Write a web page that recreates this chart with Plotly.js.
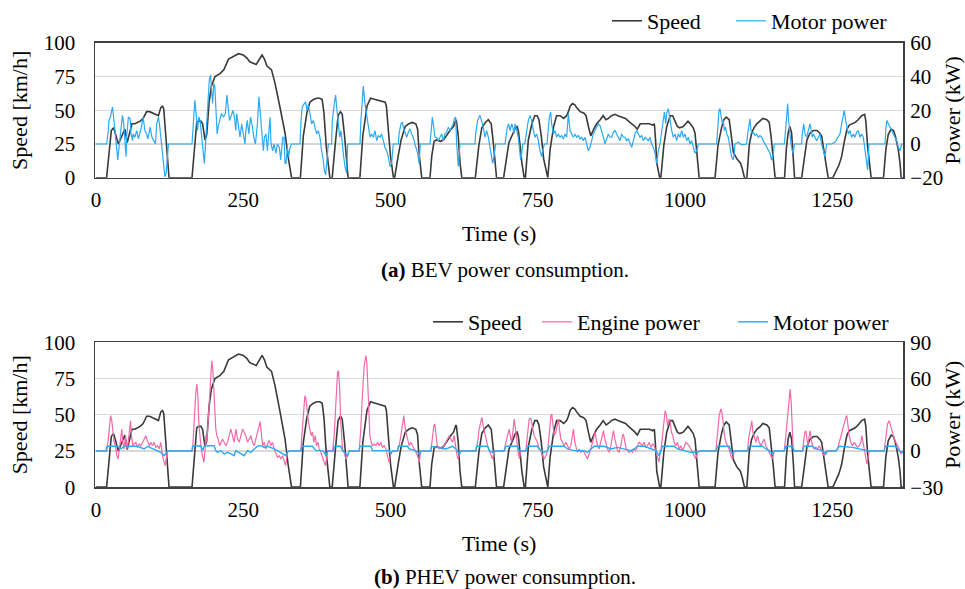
<!DOCTYPE html>
<html>
<head>
<meta charset="utf-8">
<script src="https://cdn.plot.ly/plotly-3.0.1.min.js"></script>
<style>html,body{margin:0;padding:0;background:#fff;}#chart{width:965px;height:589px;}</style>
</head>
<body>
<div id="chart"></div>
<script>
// Time axis ticks
const timeTicks = [0, 250, 500, 750, 1000, 1250];
const speedTicks = [0, 25, 50, 75, 100];
const bevPowerTicks = [-20, 0, 20, 40, 60];
const phevPowerTicks = [-30, 0, 30, 60, 90];

// Vehicle speed [km/h] as [time s, speed]
const speedPts = [
[0,0],[18,0],[26,35],[30,37],[38,25],[47,33],[49,36],[53,26],[61,40],[66,40],[75,42],[80,44],[86,49],[91,49],[101,47],[106,46],[110,52],[113,53],[115,51],[119,31],[124,0],
[163,0],[168,28],[171,41],[174,42],[178,42],[181,40],[185,28],[188,32],[192,56],[196,68],[202,75],[210,77],[217,80],[225,88],[233,90],[242,92],[250,91],[256,89],[261,86],[267,85],[272,84],[279,89],[282,91],[286,88],[290,83],[298,80],[304,70],[312,53],[321,33],[326,16],[332,0],
[347,0],[352,31],[358,48],[363,56],[369,58],[375,59],[380,59],[384,58],[387,48],[391,23],[397,0],
[401,0],[406,24],[411,46],[415,49],[418,47],[422,31],[426,6],[428,0],
[448,0],[453,31],[460,53],[466,59],[474,58],[482,57],[491,56],[493,53],[496,38],[500,16],[505,0],
[507,0],[513,16],[518,28],[525,38],[531,40],[537,41],[543,40],[546,36],[549,16],[553,0],
[567,0],[570,16],[574,27],[578,28],[585,27],[590,28],[596,32],[601,35],[607,38],[611,43],[612,42],[615,31],[618,11],[621,0],
[644,0],[650,24],[655,37],[661,41],[666,43],[671,40],[675,24],[680,0],
[692,0],[697,16],[701,26],[708,33],[712,37],[715,38],[717,35],[720,24],[723,11],[727,0],
[729,0],[734,28],[740,40],[745,46],[749,46],[752,43],[756,31],[760,14],[766,0],
[767,0],[771,21],[777,38],[782,46],[788,46],[794,44],[799,46],[802,49],[805,53],[809,55],[813,54],[816,52],[822,49],[828,48],[832,46],[836,38],[840,31],[845,36],[850,40],[856,43],[861,46],[866,43],[870,44],[875,46],[881,47],[886,46],[893,45],[899,44],[904,42],[910,40],[915,38],[919,36],[924,40],[929,40],[935,40],[940,40],[945,39],[948,40],[950,28],[952,11],[957,0],
[959,0],[964,24],[969,38],[975,46],[979,46],[983,42],[987,38],[991,37],[997,38],[1001,40],[1005,42],[1009,40],[1014,37],[1017,33],[1020,16],[1024,0],
[1051,0],[1056,24],[1062,37],[1066,43],[1070,45],[1075,43],[1078,33],[1082,19],[1088,14],[1094,11],[1097,7],[1101,0],
[1105,0],[1109,24],[1113,33],[1117,37],[1122,40],[1128,42],[1132,44],[1139,43],[1143,41],[1146,31],[1150,14],[1153,0],
[1169,0],[1172,21],[1175,33],[1178,38],[1181,33],[1184,16],[1186,0],
[1198,0],[1203,16],[1207,28],[1212,33],[1218,35],[1224,35],[1229,33],[1232,31],[1235,23],[1239,11],[1243,0],
[1251,0],[1256,4],[1261,9],[1264,13],[1266,16],[1271,28],[1275,36],[1279,39],[1283,40],[1289,41],[1294,43],[1300,46],[1305,47],[1307,42],[1310,23],[1314,6],[1316,0],
[1337,0],[1341,21],[1345,32],[1350,36],[1354,35],[1357,31],[1362,21],[1365,11],[1367,0],[1370,0]
];

// (a) BEV motor power [kW]
const bevMotorPts = [
[0,0],[18,0],[21,8],[22,14],[24.5,16],[26,18],[28,22],[31,12],[33,4],[35.5,-2],[37,-9.5],[39,-2],[42,6],[45,17],[47,12],[49,-2],[51,-7.5],[52,4],[55,16],[58,15],[59.5,6],[62,2],[63,6],[66,4],[69,8],[72,3],[74.5,6],[77,10],[80,16],[83,8],[86,6],[88,3],[92,10],[95,4],[98,2],[101,0],[103,12],[106,16],[108,11],[110,4],[112,0],[114.5,-11.5],[117,-19.4],[119,-17.4],[121,-9.5],[123,0],
[163,0],[165.6,14],[167.8,26],[170,18],[172.3,8],[174.5,16],[176.7,14],[179.5,4],[182.3,-5.5],[184,-11.5],[185.6,-2],[187.8,12],[190.6,28],[192.3,38],[194.5,41],[196.2,32],[197.9,24],[200.1,36],[201.8,34],[203.4,22],[205.7,6],[207.3,10],[210.1,14],[212.9,18],[216.7,16],[219.5,18],[222.2,29],[223.9,24],[226.7,14],[228.9,16],[232.3,20],[235,16],[237.3,8],[239,18],[241.7,10],[244.5,4],[247.3,12],[250.1,6],[252.9,0],[254.5,8],[256.8,14],[259.5,6],[262.3,16],[265.7,10],[267.9,4],[270.7,0],[274,12],[276.7,28],[278.4,20],[280.7,10],[282.4,-2],[284.1,-4],[285.9,4],[288.6,6],[291,-4],[293.2,4],[295.4,16],[297.2,0],[300,-4],[302.2,0],[305.6,-5.5],[307.9,0],[311.3,-2],[313.5,-9.5],[315.2,-4],[317,4],[319.2,4],[320.9,-11.5],[322.6,-11.5],[324.9,-2],[327.1,-7.5],[329.4,-2],[332.2,0],
[346.4,0],[348,14],[350.2,22],[353.7,24],[355.9,25],[358.1,20],[360.5,23],[363.3,18],[366.1,12],[368.9,14],[371.8,10],[374.6,6],[377.5,8],[380.2,4],[383,-4],[385.9,-9.5],[387.6,-15.4],[389.9,-18.4],[391.6,-11.5],[394.4,0],
[400,0],[401.2,14],[404.6,24],[406.8,29],[409.1,20],[411.4,12],[413.7,4],[415.9,8],[418.2,-2],[420.5,-7.5],[422.7,-13.4],[425.5,-17.4],[427.3,0],
[448.2,0],[449.8,14],[452.2,28],[453.8,34.4],[456.7,24],[459.5,18],[462.3,10],[465.2,4],[467.9,6],[470.8,4],[473.6,8],[476.5,2],[479.3,5],[482.2,4],[484.9,6],[487.8,2],[490.6,-2],[493.5,-4],[496.3,-7.5],[499.2,-13.4],[501.9,-11.5],[504.7,0],
[513.3,0],[514.4,6],[517.8,12],[520.1,13],[521.7,10],[524.6,7],[527.4,4],[530.3,7],[533.1,9],[535.9,6],[538.7,4],[541.5,0],[544.4,-4],[546.1,-5.5],[548.4,-11.5],[550.6,0],
[567.1,0],[568.2,6],[571,16],[573.3,10],[575.5,4],[578.3,4],[581.2,2],[584,4],[586.9,6],[589.6,2],[592.5,6],[595.3,7],[598.2,10],[601,8],[603.9,10],[606.6,12],[608.3,15],[610.6,16],[612.3,0],[614,-11.5],[615.1,-13.4],[618,0],
[643.4,0],[644.5,6],[648,14],[651.9,17],[654.8,14],[657.5,10],[660.4,4],[663.2,8],[666.1,4],[668.9,-2],[671.8,-5.5],[673.4,-11.5],[675.7,-7.5],[678.5,0],
[694.3,0],[696.1,6],[698.4,10],[700.6,12],[702.9,8],[705.7,12],[707.5,10],[709.7,6],[711.4,12],[714.2,8],[717,4],[718.7,-2],[721,-9.5],[722.7,-5.5],[724.4,0],
[727.9,0],[730,6],[734,14],[736.8,17],[739.7,14],[742.5,8],[745.4,4],[748.1,6],[751,2],[753.8,-4],[756.7,-7.5],[758.4,-4],[761.1,0],
[765.7,0],[766.8,6],[769.7,16],[771.9,19],[773.6,12],[776.5,6],[779.3,8],[782.1,4],[784.9,6],[787.8,4],[790.6,5],[793.5,3],[796.3,6],[799.1,4],[801.9,18],[804.7,8],[807.6,6],[810.4,4],[813.3,6],[816,4],[818.9,5],[821.7,3],[824.6,4],[827.4,2],[830.3,4],[833,0],[835.9,-4],[838.7,-2],[841.5,2],[844.4,6],[847.2,8],[850,10],[852.8,12],[855.7,11],[858.5,8],[861.4,4],[864.2,0],[867,3],[869.8,6],[872.6,4],[875.5,4],[878.3,7],[881.2,8],[883.9,6],[886.8,4],[889.6,2],[892.5,6],[895.3,4],[898.2,4],[901,2],[903.8,3],[906.6,0],[909.4,-2],[912.3,2],[915.1,6],[918,8],[920.7,6],[923.6,4],[926.4,5],[929.3,2],[932.1,4],[935,3],[937.7,2],[940.6,4],[943.4,0],[946.3,-2],[949.1,-5.5],[951.9,-11.5],[954.7,-4],[957.5,0],
[960.4,8],[963.2,16],[965,19],[967.2,12],[968.8,18],[971.7,21],[974.5,14],[977.4,8],[980.2,4],[983.1,6],[985.9,2],[988.6,6],[991.5,4],[994.3,8],[997.2,4],[1000,6],[1002.9,2],[1005.6,4],[1008.5,0],[1011.3,2],[1014.2,-2],[1017,-5.5],[1019.9,-4],[1022.7,0],
[1053.7,0],[1055.4,12],[1057.7,20],[1059.4,21],[1061,16],[1063.3,12],[1065,14],[1066.7,8],[1068.9,10],[1070.7,6],[1073.5,4],[1076.4,-2],[1079.1,-7.5],[1081.9,-9.5],[1083.7,-5.5],[1084.8,0],[1090.5,1],[1096.1,-0.5],[1101.8,0],[1104.6,0],[1106.4,6],[1108.6,12],[1110.3,15],[1112,8],[1114.3,6],[1115.9,7],[1118.8,5],[1121.6,6],[1124.5,4],[1127.3,5],[1130.1,4],[1132.9,2],[1135.7,0],[1138.6,-2],[1141.4,-4],[1144.3,-5.5],[1147,-9.5],[1149.9,-5.5],[1151.6,0],
[1168.6,0],[1169.7,4],[1172.5,14],[1174.3,24],[1175.9,14],[1178.2,4],[1179.9,0],[1182.2,-4],[1183.8,-5.5],[1185.6,0],
[1198,0],[1199.2,6],[1201.4,12],[1203.7,6],[1206.5,4],[1209.3,8],[1212.2,12],[1213.8,9],[1216.2,4],[1217.8,6],[1220.6,4],[1223.5,2],[1226.3,4],[1229.2,6],[1231.9,0],[1234.8,-4],[1237.6,-7.5],[1240.5,0],
[1248.9,0],[1254.6,1],[1260.3,4],[1263.1,6],[1265.9,12],[1268.7,18],[1270.4,20],[1272.7,14],[1274.4,10],[1277.3,6],[1280.1,8],[1282.8,4],[1285.7,6],[1288.5,4],[1291.4,7],[1294.2,8],[1297.1,4],[1299.8,6],[1302.7,4],[1305.5,-4],[1308.4,-11.5],[1310.1,-15.4],[1312.3,0],
[1339.5,0],[1341.2,10],[1342.9,14],[1345.2,12],[1348,10],[1350.9,8],[1353.6,6],[1356.4,4],[1359.3,2],[1362.1,-2],[1365,-4],[1367.8,0],[1370,0]
];

// (b) PHEV engine power [kW]
const phevEnginePts = [
[0,0],[16.4,0],[20.3,7.2],[22.5,18.2],[24.8,29.3],[26.8,25.1],[28.6,15.5],[30.8,7.2],[33.1,4.4],[35.4,-3.9],[37.6,-6.6],[39.9,1.7],[42.2,12.7],[43.8,18.2],[45.5,7.2],[47.8,1.7],[50.1,12.7],[52.4,1.7],[54.6,7.2],[56.9,18.2],[58.6,25.1],[60.3,12.7],[62.5,4.4],[64.8,5.8],[67.6,7.2],[70.5,3],[73.3,5.8],[76.1,4.4],[79,7.2],[81.7,9.9],[84.6,12.7],[86.3,9.9],[88.5,7.2],[90.8,4.4],[93.1,7.2],[96,4.4],[98.7,7.2],[101.6,3],[104.4,4.4],[107.3,1.7],[110.1,7.2],[112.9,-3.9],[115.7,-9.4],[117.4,-12.1],[119.1,-6.6],[121.4,0],
[163.9,0],[166.7,26.5],[169.5,48.6],[171.2,55.5],[172.9,45.8],[174.6,23.7],[176.3,12.7],[178,4.4],[179.7,-1.1],[181.4,-6.6],[183.1,-9.4],[184.8,-1.1],[186.4,12.7],[188.2,7.2],[190.4,26.5],[192.7,40.3],[195,59.6],[196.6,74.8],[198.3,67.9],[200.1,51.3],[201.8,29.3],[203.4,18.2],[205.1,12.7],[207.4,9.9],[209.7,4.4],[212,7.2],[214.8,9.9],[217.6,7.2],[220.4,4.4],[223.2,7.2],[226.1,12.7],[228.9,18.2],[231.8,12.7],[234.5,7.2],[237.4,18.2],[240.2,9.9],[243.1,7.2],[245.9,12.7],[248.8,18.2],[251.5,15.5],[254.4,12.7],[257.2,7.2],[260,9.9],[262.9,12.7],[265.7,7.2],[268.6,4.4],[271.3,9.9],[274.2,15.5],[277,21],[278.8,24.3],[281,12.7],[283.2,4.4],[285.6,7.2],[288.3,1.7],[291.2,5.8],[294,8.6],[296.8,4.4],[299.7,7.2],[302.5,1.7],[305.3,-1.1],[308.1,-5.2],[311,-3.9],[313.8,-6.6],[316.7,-3.9],[319.5,-9.4],[321.8,-12.1],[323.5,-6.6],[325.1,-1.1],[328,0],
[347.8,0],[349.5,12.7],[352.4,32],[354.6,45.8],[356.3,43.1],[358.6,32],[360.8,23.7],[363.1,18.2],[365.4,12.7],[367.6,15.5],[369.8,7.2],[372.2,12.7],[374.4,4.4],[376.7,7.2],[378.9,1.7],[381.7,-1.1],[384.6,-6.6],[387.4,-9.4],[389.2,-12.1],[391.4,-3.9],[393.6,0],
[401.6,0],[404.4,12.7],[407.3,40.3],[410.1,65.1],[411.7,66.5],[413.5,54.1],[415.2,26.5],[416.8,9.9],[418.5,1.7],[421.4,-1.1],[424.2,-6.6],[427.1,-3.9],[429.8,0],
[446.8,0],[449.6,18.2],[452.5,48.6],[455.3,70.7],[458.2,79],[459.8,73.4],[461.5,54.1],[463.3,26.5],[465,12.7],[467.2,7.2],[469.5,4.4],[472.3,5.8],[475.2,4.4],[478,7.2],[480.9,4.4],[483.6,7.2],[486.4,3],[489.3,4.4],[492.1,1.7],[495,-3.9],[497.7,-9.4],[500.6,-1.1],[503.4,0],
[512,0],[514.7,4.4],[517.6,12.7],[520.4,23.7],[522.6,29.3],[525,18.2],[527.2,12.7],[529.4,7.2],[531.7,4.4],[534.5,7.2],[537.4,4.4],[540.2,1.7],[543.1,-1.1],[545.9,-3.9],[548.7,-9.4],[551.5,0],
[568.5,0],[571.3,12.7],[573.6,21],[575.3,22.4],[577,15.5],[579.3,4.4],[581.5,3],[583.8,1.7],[586.1,3],[588.3,1.7],[591.2,4.4],[594,7.2],[596.8,9.9],[599.6,12.7],[602.4,9.9],[605.3,7.2],[608.1,12.7],[609.9,4.4],[612.1,-1.1],[614.3,-6.6],[616.7,-3.9],[619.4,0],
[644.9,0],[647.8,7.2],[650.5,18.2],[653.4,26.5],[655.1,27.9],[657.3,21],[659.7,15.5],[661.9,9.9],[664.8,4.4],[667.6,0.3],[670.3,-3.9],[673.2,-6.6],[676,0],
[692.9,0],[695.8,7.2],[698.6,12.7],[701.5,18.2],[703.2,12.7],[705.4,7.2],[707.7,15.5],[709.9,26.5],[712.2,18.2],[714.5,7.2],[716.7,-1.1],[718.9,-6.6],[721.3,0],
[729.7,0],[732.6,12.7],[735.4,26.5],[738.3,27],[741.1,21],[743.8,12.7],[746.7,9.9],[749.5,7.2],[752.4,1.7],[755.2,0.3],[758.1,-3.9],[760.8,-6.6],[763.7,-3.9],[766.5,0],
[769.4,12.7],[772.2,29.3],[773.8,30.6],[775.6,23.7],[777.8,12.7],[780.6,15.5],[783.5,23.7],[785.2,26.5],[786.8,18.2],[789.2,9.9],[792,7.2],[794.8,4.4],[797.6,7.2],[800.5,4.4],[803.3,1.7],[806.2,4.4],[809,12.7],[810.6,18.2],[813,7.2],[815.2,1.7],[817.4,-1.1],[820.3,1.7],[823.1,-1.1],[826,0.3],[828.7,-1.1],[831.6,-3.9],[834.4,-6.6],[837.3,-2.5],[840.1,1.7],[843,7.2],[845.7,12.7],[847.4,15.5],[849.2,9.9],[851.4,4.4],[854.2,1.7],[857.1,7.2],[859.9,12.7],[861.6,16.8],[863.9,9.9],[866.1,4.4],[868.4,1.7],[871.2,-1.1],[874.1,4.4],[876.9,12.7],[878.5,16.8],[880.9,9.9],[883.1,4.4],[885.4,0.3],[888.2,-1.1],[891.1,4.4],[893.9,12.7],[895.5,14.1],[897.9,7.2],[900.1,1.7],[902.3,0.3],[905.2,-1.1],[908,0.3],[910.9,-1.1],[913.6,1.7],[916.5,0.3],[919.3,4.4],[922.2,7.2],[925,5.8],[927.9,4.4],[930.6,7.2],[933.4,3],[936.3,4.4],[939.1,7.2],[942,3],[944.8,5.8],[947.6,4.4],[950.4,0.3],[953.3,-5.2],[956.1,-9.4],[957.8,0],
[959,0],[961.8,12.7],[964.7,26.5],[966.3,33.4],[968.6,29.3],[970.2,21],[973.1,26.5],[974.8,23.7],[977,15.5],[979.3,12.7],[981.6,7.2],[984.4,4.4],[987.2,7.2],[990.1,1.7],[992.9,4.4],[995.8,0.3],[998.6,3],[1001.4,7.2],[1004.2,5.8],[1007,4.4],[1009.9,1.7],[1012.7,-1.1],[1015.6,-3.9],[1018.3,-6.6],[1021.2,-1.1],[1024,0],
[1052.4,0],[1055.1,12.7],[1058,29.3],[1060.8,34.8],[1062.6,32],[1064.8,23.7],[1067,12.7],[1069.4,7.2],[1072.2,4.4],[1074.9,1.7],[1077.8,-3.9],[1080.6,-6.6],[1083.5,0],
[1106.2,0],[1107.8,9.9],[1110,15.5],[1111.8,21],[1113.5,25.1],[1115.2,15.5],[1117.4,12.7],[1120.3,7.2],[1123.1,12.7],[1125.9,7.2],[1128.7,4.4],[1131.6,7.2],[1134.4,9.9],[1137.3,4.4],[1140.1,1.7],[1142.9,-1.1],[1145.7,-3.9],[1148.6,-6.6],[1151.4,0],
[1168.4,0],[1171.2,12.7],[1174.1,26.5],[1176.8,43.1],[1178.5,51.3],[1180.3,40.3],[1182,18.2],[1183.6,1.7],[1186,0],
[1199.5,0],[1201.2,7.2],[1203.5,15.5],[1205.2,16.8],[1206.9,9.9],[1208.5,4.4],[1210.9,12.7],[1212.5,16.8],[1214.2,9.9],[1216.5,4.4],[1219.3,1.7],[1222.2,3],[1225,1.7],[1227.7,4.4],[1230.6,1.7],[1233.4,-1.1],[1236.3,-3.9],[1239.1,0],
[1256.1,0],[1258.9,1.7],[1261.7,7.2],[1264.5,12.7],[1267.4,18.2],[1270.2,23.7],[1273.1,27.9],[1274.7,29.3],[1276.4,21],[1278.7,12.7],[1281.5,7.2],[1284.4,4.4],[1287.2,7.2],[1290.1,4.4],[1292.9,3],[1295.7,4.4],[1298.5,7.2],[1300.2,12.7],[1302.5,7.2],[1304.8,1.7],[1307.1,-3.9],[1308.8,-10.8],[1310.4,-6.6],[1312.7,0],
[1338.1,0],[1341,12.7],[1343.8,22.4],[1346.7,25.1],[1349.4,21],[1352.3,15.5],[1355.1,9.9],[1358,7.2],[1360.8,4.4],[1363.7,1.7],[1366.4,-2.5],[1369.3,-1.1],[1370.6,0]
];

// (b) PHEV motor power [kW]
const phevMotorPts = [
[0,0],[18.1,0],[19.2,3.9],[36.5,3.9],[42.2,1.7],[47.8,3.9],[70.5,3.9],[81.7,1.7],[87.4,3.9],[98.7,1.7],[104.4,0.3],[110.1,-1.1],[115.7,-3.9],[121.4,0],
[162.7,0],[163.9,3.9],[178,4.4],[180.9,0.3],[183.6,3.9],[189.3,4.4],[200.6,4.4],[203.4,0.3],[206.3,-1.1],[212,0.3],[217.6,-2.5],[223.2,-1.1],[228.9,-2.5],[234.5,-3.9],[237.4,0.3],[245.9,-2.5],[251.5,-3.9],[257.2,0.3],[262.9,-1.1],[268.6,1.7],[274.2,3.9],[279.9,4.4],[285.6,3],[291.2,3.9],[296.8,3],[302.5,1.7],[308.1,0.3],[313.8,-1.1],[319.5,-2.5],[322.4,-3.9],[325.1,-1.1],[328,0],
[347.8,0],[349.5,3.9],[367.6,3.9],[370.4,1.7],[373.3,0.3],[384.6,0.3],[387.4,-1.1],[390.3,-3.9],[393.6,0],
[402.7,0],[404.4,3.9],[415.7,3.9],[418.5,0.3],[424.2,-2.5],[427.1,-3.9],[429.8,0],
[446.8,0],[448,3.9],[466.6,3.9],[469.5,0.3],[497.7,0.3],[500.6,-2.5],[503.4,0],
[512,0],[513.1,3.9],[528.9,3.9],[531.7,1.7],[543.1,0.3],[548.7,-2.5],[551.5,0],
[568.5,0],[569.6,3.9],[582.6,3],[594,1.7],[605.3,3.9],[611,1.7],[616.7,-2.5],[619.4,0],
[644.9,0],[646,3.9],[664.8,3.9],[667.6,0.3],[673.2,-1.1],[676,0],
[692.9,0],[695.8,3.9],[715.6,3.9],[718.4,0.3],[721.3,0],
[729.7,0],[732.6,3.9],[749.5,3.9],[752.4,1.7],[760.8,-1.1],[766.5,0],[769.4,3.9],[794.8,3.9],[800.5,1.7],[811.8,0.3],[828.7,0.3],[834.4,-1.1],[840.1,1.7],[845.7,3.9],[862.7,3.9],[874.1,1.7],[885.4,3],[896.6,1.7],[908,0.3],[913.6,1.7],[919.3,3.9],[930.6,3.9],[942,1.7],[950.4,0.3],[956.1,-3.9],[957.8,0],
[959,0],[961.8,3.9],[981.6,3.9],[987.2,1.7],[998.6,0.3],[1009.9,-1.1],[1021.2,-1.1],[1024,0],
[1052.4,0],[1055.1,3.9],[1074.9,3.9],[1077.8,0.3],[1080.6,-2.5],[1083.5,0],
[1106.2,0],[1108.9,3.9],[1131.6,3.9],[1137.3,1.7],[1142.9,0.3],[1148.6,-2.5],[1151.4,0],
[1168.4,0],[1171.2,3.9],[1182.5,3.9],[1185.4,0],
[1199.5,0],[1202.3,3.9],[1216.5,3.9],[1222.2,1.7],[1233.4,0.3],[1239.1,-2.5],[1242,0],
[1256.1,0],[1261.7,3.9],[1284.4,3],[1295.7,1.7],[1307.1,0.3],[1312.7,0],
[1338.1,0],[1339.9,3.9],[1358,3.9],[1363.7,0.3],[1369.3,-1.1],[1370.6,0]
];

const xs = p => p.map(d => d[0]);
const ys = p => p.map(d => d[1]);

const FONT = 'Liberation Serif, Times New Roman, serif';
const SPEED_C = '#3a3a3a', MOTOR_C = '#2aaaf2', ENGINE_C = '#f06aa8';

const traces = [
  {x: xs(speedPts), y: ys(speedPts), xaxis: 'x', yaxis: 'y', name: 'Speed', type: 'scatter', mode: 'lines',
   line: {color: SPEED_C, width: 1.6}, legend: 'legend'},
  {x: xs(bevMotorPts), y: ys(bevMotorPts), xaxis: 'x', yaxis: 'y2', name: 'Motor power', type: 'scatter', mode: 'lines',
   line: {color: MOTOR_C, width: 1.2}, legend: 'legend2'},
  {x: xs(speedPts), y: ys(speedPts), xaxis: 'x2', yaxis: 'y3', name: 'Speed', type: 'scatter', mode: 'lines',
   line: {color: SPEED_C, width: 1.6}, legend: 'legend3'},
  {x: xs(phevEnginePts), y: ys(phevEnginePts), xaxis: 'x2', yaxis: 'y4', name: 'Engine power', type: 'scatter', mode: 'lines',
   line: {color: ENGINE_C, width: 1.2}, legend: 'legend4'},
  {x: xs(phevMotorPts), y: ys(phevMotorPts), xaxis: 'x2', yaxis: 'y4', name: 'Motor power', type: 'scatter', mode: 'lines',
   line: {color: MOTOR_C, width: 1.4}, legend: 'legend5'}
];

const W = 965, H = 589;
const xDom = [95 / W, 903.3 / W];
const topDom = [1 - 177 / H, 1 - 42 / H];
const botDom = [1 - 487 / H, 1 - 342 / H];
const tickFont = {family: FONT, size: 21, color: '#000'};
const titleFont = {family: FONT, size: 22, color: '#000'};
const legFont = {family: FONT, size: 22, color: '#000'};
const xRange = [-1.7, 1370.6];

function xAxis(anchor, dom) {
  return {domain: dom, anchor: anchor, range: xRange, tickvals: timeTicks, ticktext: timeTicks.map(String),
    showgrid: false, zeroline: false, showline: true, mirror: true, linecolor: '#404040', linewidth: 1.5,
    ticks: '', tickfont: tickFont, ticklabelstandoff: 3,
    title: {text: 'Time (s)', font: titleFont, standoff: 14}};
}
function leftAxis(anchor, dom) {
  return {domain: dom, anchor: anchor, range: [0, 100], tickvals: speedTicks, showgrid: true, gridcolor: '#d9d9d9', gridwidth: 1.3,
    zeroline: false, showline: true, mirror: true, linecolor: '#404040', linewidth: 1.5, ticks: '', tickfont: tickFont,
    ticklabelstandoff: 14, title: {text: 'Speed [km/h]', font: titleFont, standoff: 10}};
}
function rightAxis(anchor, over, range, ticks) {
  return {overlaying: over, anchor: anchor, side: 'right', range: range, tickvals: ticks, showgrid: false, zeroline: false,
    showline: false, ticks: '', tickfont: tickFont, ticklabelstandoff: 6,
    title: {text: 'Power (kW)', font: titleFont, standoff: 10}};
}
function leg(xText, yPx) {
  return {orientation: 'h', x: (xText - 40) / W, xanchor: 'left', y: 1 - yPx / H, yanchor: 'middle',
    font: legFont, bgcolor: 'rgba(0,0,0,0)', itemwidth: 30};
}

const layout = {
  width: W, height: H, autosize: false,
  margin: {l: 0, r: 0, t: 0, b: 0, pad: 0},
  paper_bgcolor: '#fff', plot_bgcolor: '#fff',
  font: {family: FONT, size: 21, color: '#000'},
  showlegend: true,
  xaxis: xAxis('y', xDom),
  yaxis: leftAxis('x', topDom),
  yaxis2: rightAxis('x', 'y', [-20, 60], bevPowerTicks),
  xaxis2: xAxis('y3', xDom),
  yaxis3: leftAxis('x2', botDom),
  yaxis4: rightAxis('x2', 'y3', [-30, 90], phevPowerTicks),
  legend: leg(647, 20),
  legend2: leg(771, 20),
  legend3: leg(468, 322),
  legend4: leg(577, 322),
  legend5: leg(773, 322),
  annotations: [
    {text: '<b>(a)</b> BEV power consumption.', xref: 'paper', yref: 'paper', x: 505 / W, y: 1 - 269 / H,
     xanchor: 'center', yanchor: 'middle', showarrow: false, font: {family: FONT, size: 21, color: '#000'}},
    {text: '<b>(b)</b> PHEV power consumption.', xref: 'paper', yref: 'paper', x: 505 / W, y: 1 - 577 / H,
     xanchor: 'center', yanchor: 'middle', showarrow: false, font: {family: FONT, size: 21, color: '#000'}}
  ]
};

Plotly.newPlot('chart', traces, layout, {displayModeBar: false, staticPlot: true});
</script>
</body>
</html>
